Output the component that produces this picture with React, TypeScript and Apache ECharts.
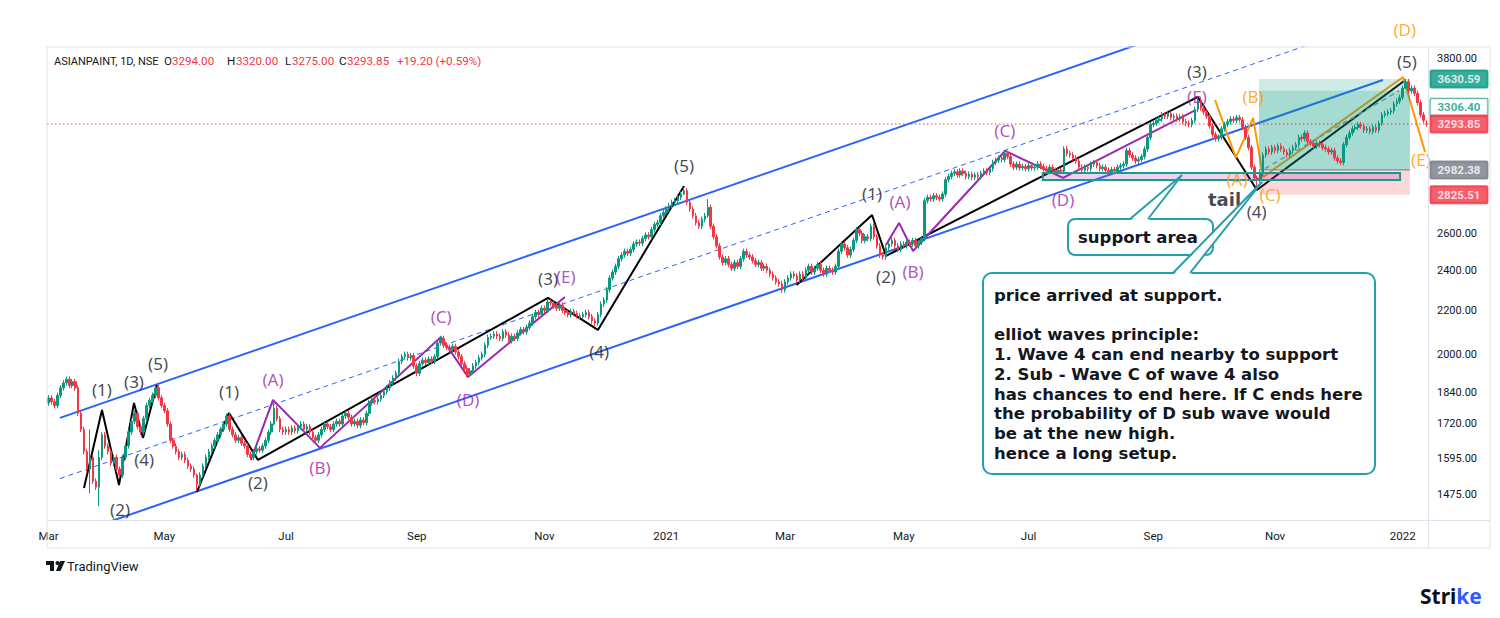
import React, { useEffect, useRef } from "react";
import * as echarts from "echarts";

// ---------- DATA ----------
const startDate = "2020-03-02";
const candleCount = 465;
const holidays = [
  "2020-03-10", "2020-04-02", "2020-04-06", "2020-04-10", "2020-04-14", "2020-05-01", "2020-05-25",
  "2020-10-02", "2020-11-16", "2020-11-30", "2020-12-25", "2021-01-26", "2021-03-11", "2021-03-29",
  "2021-04-02", "2021-04-14", "2021-04-21", "2021-05-13", "2021-07-21", "2021-08-19", "2021-09-10",
  "2021-10-15", "2021-11-05", "2021-11-19", "2022-01-26",
];
const monthNames = ["Jan", "Feb", "Mar", "Apr", "May", "Jun", "Jul", "Aug", "Sep", "Oct", "Nov", "Dec"];

const firstOpen = 1800;
const closes: number[] = [
  1820, 1805, 1790, 1830, 1860, 1880, 1895, 1870, 1885, 1860,
  1760, 1700, 1620, 1560, 1600, 1520, 1500, 1600, 1680, 1640,
  1620, 1580, 1600, 1560, 1540, 1600, 1640, 1690, 1730, 1760,
  1710, 1690, 1740, 1790, 1810, 1830, 1860, 1820, 1790, 1770,
  1720, 1660, 1640, 1620, 1600, 1610, 1590, 1570, 1560, 1540,
  1510, 1540, 1570, 1600, 1620, 1640, 1660, 1680, 1700, 1720,
  1750, 1700, 1680, 1660, 1670, 1650, 1640, 1610, 1600, 1620,
  1630, 1625, 1640, 1660, 1690, 1720, 1780, 1740, 1700, 1690,
  1700, 1690, 1705, 1695, 1710, 1720, 1700, 1710, 1690, 1670,
  1660, 1680, 1700, 1720, 1710, 1700, 1720, 1730, 1720, 1750,
  1760, 1745, 1720, 1730, 1715, 1735, 1725, 1760, 1800, 1810,
  1805, 1815, 1830, 1845, 1860, 1880, 1900, 1920, 1970, 1990,
  2000, 1985, 1995, 1950, 1920, 1960, 1975, 1965, 1980, 1970,
  1990, 2050, 2070, 2040, 2030, 2020, 2035, 2010, 1990, 1960,
  1940, 1915, 1930, 1950, 1965, 1985, 2000, 2040, 2075, 2080,
  2090, 2080, 2070, 2100, 2085, 2060, 2080, 2070, 2095, 2110,
  2100, 2120, 2140, 2170, 2190, 2180, 2210, 2200, 2240, 2235,
  2220, 2210, 2225, 2200, 2190, 2180, 2195, 2185, 2175, 2170,
  2180, 2190, 2170, 2150, 2140, 2180, 2230, 2250, 2300, 2360,
  2390, 2420, 2460, 2480, 2500, 2490, 2510, 2540, 2550, 2545,
  2570, 2590, 2580, 2620, 2650, 2660, 2700, 2720, 2740, 2760,
  2780, 2790, 2810, 2830, 2850, 2780, 2740, 2700, 2660, 2640,
  2680, 2700, 2750, 2640, 2580, 2530, 2470, 2440, 2460, 2430,
  2410, 2440, 2420, 2460, 2500, 2480, 2470, 2450, 2430, 2440,
  2410, 2420, 2400, 2380, 2360, 2340, 2330, 2300, 2340, 2360,
  2380, 2370, 2350, 2380, 2360, 2400, 2420, 2390, 2410, 2430,
  2400, 2380, 2410, 2400, 2390, 2420, 2500, 2540, 2520, 2480,
  2510, 2560, 2620, 2600, 2560, 2580, 2570, 2640, 2580, 2530,
  2480, 2470, 2520, 2540, 2560, 2530, 2510, 2540, 2530, 2550,
  2540, 2560, 2530, 2550, 2570, 2790, 2810, 2800, 2820, 2810,
  2800, 2830, 2920, 2940, 2960, 2970, 2950, 2975, 2960, 2940,
  2955, 2935, 2950, 2940, 2960, 2975, 2965, 2990, 3030, 3045,
  3060, 3050, 3090, 3070, 3020, 3000, 3020, 2995, 3005, 2990,
  3010, 2995, 3000, 3020, 3005, 2990, 2975, 3000, 2980, 2970,
  2980, 2975, 3120, 3090, 3080, 3060, 3040, 3000, 2980, 3000,
  2990, 3020, 3030, 3010, 2990, 3000, 2980, 2970, 2985, 2975,
  3000, 3010, 3020, 3110, 3080, 3060, 3040, 3050, 3070, 3120,
  3200, 3290, 3300, 3320, 3330, 3360, 3350, 3370, 3340, 3350,
  3330, 3345, 3310, 3300, 3290, 3320, 3400, 3470, 3410, 3380,
  3350, 3280, 3220, 3190, 3200, 3260, 3290, 3310, 3330, 3320,
  3340, 3325, 3270, 3200, 3130, 3000, 2930, 2920, 2960, 3080,
  3120, 3100, 3130, 3110, 3140, 3120, 3100, 3080, 3110, 3130,
  3150, 3200, 3190, 3230, 3170, 3160, 3140, 3160, 3150, 3130,
  3120, 3100, 3110, 3060, 3040, 3030, 3150, 3200, 3230, 3260,
  3270, 3290, 3280, 3250, 3260, 3240, 3270, 3250, 3300, 3360,
  3370, 3380, 3390, 3440, 3460, 3490, 3560, 3610, 3540, 3560,
  3520, 3450, 3360, 3320, 3293.85,
];
const wickPct = 0.006;
// [low, high] of candles whose wicks were read individually
const wickExtremes: Record<number, [number, number]> = {
  14: [1480, 1700], 17: [1440, 1625], 50: [1488, 1545], 76: [1715, 1812], 214: [2825, 2872],
  222: [2690, 2800], 247: [2285, 2345], 407: [2868, 2945], 457: [3550, 3632],
};
const lastCandle = { open: 3294.0, high: 3320.0, low: 3275.0, close: 3293.85 };

const yTicks = [1475, 1595, 1720, 1840, 2000, 2200, 2400, 2600, 3800];
const yMin = 1397;
const yMax = 3892;
const lastPrice = 3293.85;

// channel (x = candle index, y = price)
const channelUpper = [[3.87, 1742.7], [387.7, 4100]];
const channelMid = [[3.87, 1528], [455.1, 4190]];
const channelLower = [[3.87, 1341], [449.3, 3623.8]];

// Elliott waves
const wave1Black = [[11.95, 1497.5], [18.01, 1773], [23.74, 1507], [28.79, 1800], [31.82, 1669], [36.53, 1872]];
const wave2Black = [[50.0, 1484.6], [60.77, 1761.6], [70.54, 1591], [168.2, 2260], [185.0, 2108.7], [214.0, 2880]];
const wave3Black = [[251.9, 2324.5], [277.3, 2705], [282.0, 2475.2], [387.0, 3492.8], [406.9, 2855.6], [456.9, 3623.8]];
const wave1Purple = [[68.18, 1591], [75.59, 1812], [91.41, 1633.2], [132.15, 2076.8], [141.25, 1904.6], [173.9, 2264.9]];
const wave2Purple = [[282.0, 2535], [286.4, 2658.7], [291.1, 2502], [322.1, 3107.3], [341.6, 2930.7], [386.4, 3395.9]];
const waveOrange = [[392.8, 3470], [399.8, 3060.5], [405.6, 3337.5], [409.0, 2937], [456.1, 3647.4], [463.5, 3100.5]];

const blackLabels: [string, number, number][] = [
  ["(1)", 18.0, 1852], ["(2)", 24.1, 1428], ["(3)", 28.8, 1884], ["(4)", 32.2, 1591], ["(5)", 36.9, 1959],
  ["(1)", 60.8, 1843.6], ["(2)", 70.5, 1513.8], ["(3)", 168.2, 2354.9], ["(4)", 185.4, 2010.5], ["(5)", 214.0, 3007.8],
  ["(1)", 277.3, 2831], ["(2)", 282.0, 2365], ["(3)", 386.7, 3690], ["(4)", 406.8, 2725], ["(5)", 457.4, 3767.8],
];
const purpleLabels: [string, number, number][] = [
  ["(A)", 75.6, 1892.3], ["(B)", 91.4, 1563.8], ["(C)", 132.2, 2168.9], ["(D)", 141.3, 1812], ["(E)", 174.2, 2365],
  ["(A)", 286.7, 2782.3], ["(B)", 291.1, 2391], ["(C)", 322.0, 3245], ["(D)", 341.6, 2794.4], ["(E)", 386.7, 3495],
];
const orangeLabels: [string, number, number][] = [
  ["(A)", 400.2, 2918], ["(B)", 405.6, 3492.8], ["(C)", 411.3, 2825], ["(D)", 456.7, 4038], ["(E)", 462.1, 3047],
];
const tailLabel: [string, number, number][] = [["tail", 396.0, 2800]];

// long position tool
const posX = [407.6, 458.4];
const targetPrice = 3630.59;
const reachedPrice = 3540;
const entryPrice = 2982.38;
const stopPrice = 2825.51;
const positionDash = [[409.6, 2990], [454.8, 3540]];
const supportZone = [334.8, 455.1, 2918, 2962.5];

const priceTags = [
  { value: 3630.59, bg: "#089981", fg: "#ffffff", border: "#089981", dy: 0 },
  { value: 3306.4, bg: "#ffffff", fg: "#089981", border: "#089981", dy: -15 },
  { value: 3293.85, bg: "#F23645", fg: "#ffffff", border: "#F23645", dy: 0 },
  { value: 2982.38, bg: "#787B86", fg: "#ffffff", border: "#787B86", dy: 0 },
  { value: 2825.51, bg: "#F23645", fg: "#ffffff", border: "#F23645", dy: 0 },
];

const headerParts = [
  { t: "ASIANPAINT, 1D, NSE", x: 54, c: "#131722", s: 11 },
  { t: "O", x: 164, c: "#131722", s: 11.6 }, { t: "3294.00", x: 172, c: "#F23645", s: 11.6 },
  { t: "H", x: 227, c: "#131722", s: 11.6 }, { t: "3320.00", x: 236, c: "#F23645", s: 11.6 },
  { t: "L", x: 285, c: "#131722", s: 11.6 }, { t: "3275.00", x: 292, c: "#F23645", s: 11.6 },
  { t: "C", x: 339, c: "#131722", s: 11.6 }, { t: "3293.85", x: 347, c: "#F23645", s: 11.6 },
  { t: "+19.20 (+0.59%)", x: 397, c: "#F23645", s: 11.6 },
];

const noteLines = [
  "price arrived at support.",
  "",
  "elliot waves principle:",
  "1. Wave 4 can end nearby to support",
  "2. Sub - Wave C of wave 4 also",
  "has chances to end here. If C ends here",
  "the probability of D sub wave would",
  "be at the new high.",
  "hence a long setup.",
];

// ---------- helpers ----------
function buildDates(): string[] {
  const out: string[] = [];
  const d = new Date(startDate + "T00:00:00Z");
  while (out.length < candleCount) {
    const wd = d.getUTCDay();
    const s = d.toISOString().slice(0, 10);
    if (wd !== 0 && wd !== 6 && holidays.indexOf(s) < 0) out.push(s);
    d.setUTCDate(d.getUTCDate() + 1);
  }
  return out;
}

const UP = "#089981";
const DOWN = "#F23645";
const CALLOUT = "#24A0AC";
const FONT = "'Noto Sans', sans-serif";
const NOTE_FONT = "'DejaVu Sans', Verdana, sans-serif";

export default function App() {
  const ref = useRef<HTMLDivElement>(null);
  useEffect(() => {
    if (!ref.current) return;
    const chart = echarts.init(ref.current, undefined, { renderer: "svg" });
    const dates = buildDates();
    const ohlc = closes.map((c, i) => {
      const o = i === 0 ? firstOpen : closes[i - 1];
      let hi = Math.max(o, c) * (1 + wickPct);
      let lo = Math.min(o, c) * (1 - wickPct);
      if (wickExtremes[i]) {
        lo = wickExtremes[i][0];
        hi = wickExtremes[i][1];
      }
      return [o, c, lo, hi];
    });
    ohlc[ohlc.length - 1] = [lastCandle.open, lastCandle.close, lastCandle.low, lastCandle.high];
    const xMaxV = candleCount - 0.5;

    const lineS = (data: number[][], color: string, width: number, z: number, type: any = "solid") => ({
      type: "line", xAxisIndex: 1, yAxisIndex: 0, data, symbol: "none", silent: true, z,
      lineStyle: { color, width, type }, clip: true,
    });
    const labelS = (items: [string, number, number][], color: string, size = 17, weight = "normal", family = FONT) => ({
      type: "scatter", xAxisIndex: 1, yAxisIndex: 0, symbolSize: 1, clip: false, silent: true, z: 9,
      itemStyle: { color: "rgba(0,0,0,0)" },
      data: items.map(([t, x, y]) => ({ value: [x, y], label: { formatter: t } })),
      label: { show: true, position: "inside", color, fontSize: size, fontWeight: weight, fontFamily: family },
    });

    const rectData = [
      [posX[0], posX[1], entryPrice, targetPrice],
      [posX[0], posX[1], entryPrice, reachedPrice],
      [posX[0], posX[1], stopPrice, entryPrice],
    ];
    const rectFills = ["rgba(8,153,129,0.2)", "rgba(8,153,129,0.2)", "rgba(242,54,69,0.2)"];

    const graphics: any[] = [
      // frame
      { type: "rect", shape: { x: 47, y: 47, width: 1443, height: 501 }, style: { fill: "none", stroke: "#e0e3eb", lineWidth: 1 }, z: 50, silent: true },
      { type: "line", shape: { x1: 47, y1: 520.5, x2: 1490, y2: 520.5 }, style: { stroke: "#e0e3eb", lineWidth: 1 }, z: 50 },
      { type: "line", shape: { x1: 1428.5, y1: 47, x2: 1428.5, y2: 548 }, style: { stroke: "#e0e3eb", lineWidth: 1 }, z: 50 },
      // header
      ...headerParts.map((p) => ({
        type: "text", x: p.x, y: 61, z: 60,
        style: { text: p.t, fill: p.c, font: `${p.s}px Roboto, sans-serif`, verticalAlign: "middle" },
      })),
      // support area callout
      { type: "rect", shape: { x: 1068, y: 219, width: 145, height: 36, r: 7 }, style: { fill: "#ffffff", stroke: CALLOUT, lineWidth: 2 }, z: 70 },
      { type: "polygon", shape: { points: [[1130, 221], [1182, 175], [1148, 221]] }, style: { fill: "#ffffff" }, z: 71 },
      { type: "polyline", shape: { points: [[1130, 219], [1182, 175], [1148, 219]] }, style: { stroke: CALLOUT, lineWidth: 2, fill: null }, z: 72 },
      { type: "text", x: 1138, y: 237, z: 73, style: { text: "support area", fill: "#131722", font: `bold 16.5px ${NOTE_FONT}`, align: "center", verticalAlign: "middle" } },
      // note callout
      { type: "rect", shape: { x: 983, y: 273, width: 392, height: 201, r: 9 }, style: { fill: "#ffffff", stroke: CALLOUT, lineWidth: 2 }, z: 70 },
      { type: "polygon", shape: { points: [[1173, 275], [1262, 182], [1190, 275]] }, style: { fill: "#ffffff" }, z: 71 },
      { type: "polyline", shape: { points: [[1173, 273], [1262, 182], [1190, 273]] }, style: { stroke: CALLOUT, lineWidth: 2, fill: null }, z: 72 },
      ...noteLines.map((t, k) => ({
        type: "text", x: 994, y: 295 + k * 19.8, z: 73,
        style: { text: t, fill: "#131722", font: `bold 16.5px ${NOTE_FONT}`, verticalAlign: "middle" },
      })),
      // TradingView logo
      { type: "rect", shape: { x: 46, y: 561, width: 8, height: 4 }, style: { fill: "#131722" }, z: 60 },
      { type: "rect", shape: { x: 50, y: 561, width: 4, height: 10 }, style: { fill: "#131722" }, z: 60 },
      { type: "circle", shape: { cx: 57.5, cy: 563, r: 2 }, style: { fill: "#131722" }, z: 60 },
      { type: "polygon", shape: { points: [[60, 561], [65, 561], [60.5, 571], [56, 571]] }, style: { fill: "#131722" }, z: 60 },
      { type: "text", x: 67, y: 566.5, z: 60, style: { text: "TradingView", fill: "#131722", font: "13px Roboto, sans-serif", verticalAlign: "middle" } },
      // Strike logo
      {
        type: "text", x: 1420, y: 596, z: 60,
        style: {
          text: "{a|Stri}{b|ke}", verticalAlign: "middle",
          rich: {
            a: { fill: "#0b0f1e", font: `bold 21px ${FONT}` },
            b: { fill: "#2f5bff", font: `bold 21px ${FONT}` },
          },
        },
      },
    ];

    chart.setOption({
      animation: false,
      backgroundColor: "#ffffff",
      grid: { left: 47, right: 72, top: 47, bottom: 98, containLabel: false },
      xAxis: [
        {
          type: "category", data: dates, boundaryGap: true, gridIndex: 0,
          axisLine: { show: false }, axisTick: { show: false }, splitLine: { show: false },
          axisLabel: {
            color: "#131722", fontSize: 11.5, fontFamily: "Roboto, sans-serif", margin: 10,
            interval: (idx: number, val: string) => {
              if (idx === 0) return true;
              const m = val.slice(5, 7);
              return m !== dates[idx - 1].slice(5, 7) && ["01", "03", "05", "07", "09", "11"].indexOf(m) >= 0;
            },
            formatter: (val: string) => {
              const m = +val.slice(5, 7);
              return m === 1 ? val.slice(0, 4) : monthNames[m - 1];
            },
          },
        },
        { type: "value", gridIndex: 0, min: -0.5, max: xMaxV, show: false },
      ],
      yAxis: [
        {
          type: "log", logBase: 10, min: yMin, max: yMax, position: "right",
          axisLine: { show: false }, axisTick: { show: false }, splitLine: { show: false },
          axisLabel: {
            customValues: yTicks, color: "#131722", fontSize: 11, fontFamily: "Roboto, sans-serif", margin: 9,
            formatter: (v: number) => Number(v).toFixed(2),
          },
        },
      ],
      series: [
        {
          type: "candlestick", name: "ASIANPAINT", xAxisIndex: 0, yAxisIndex: 0, data: ohlc, z: 4, barWidth: 2.1,
          itemStyle: { color: UP, color0: DOWN, borderColor: UP, borderColor0: DOWN, borderWidth: 1 },
        },
        lineS([[-0.5, lastPrice], [xMaxV, lastPrice]], DOWN, 1, 3, [1.5, 2.5]),
        lineS(channelUpper, "#2962FF", 2, 2),
        lineS(channelMid, "#2962FF", 1, 2, [5, 4]),
        lineS(channelLower, "#2962FF", 2, 2),
        lineS(wave1Black, "#000000", 2, 2),
        lineS(wave2Black, "#000000", 2, 2),
        lineS(wave3Black, "#000000", 2, 2),
        lineS(wave1Purple, "#9C27B0", 2, 2),
        lineS(wave2Purple, "#9C27B0", 2, 2),
        lineS(waveOrange, "#FF9800", 2, 2),
        lineS(positionDash, "#9598a1", 1.5, 2, [5, 4]),
        {
          type: "custom", xAxisIndex: 1, yAxisIndex: 0, z: 3, silent: true, clip: true,
          data: rectData, encode: { x: [0, 1], y: [2, 3] },
          renderItem: (params: any, api: any) => {
            const p1 = api.coord([api.value(0), api.value(3)]);
            const p2 = api.coord([api.value(1), api.value(2)]);
            return {
              type: "rect",
              shape: { x: p1[0], y: p1[1], width: p2[0] - p1[0], height: p2[1] - p1[1] },
              style: { fill: rectFills[params.dataIndex] },
            };
          },
        },
        lineS([[posX[0], entryPrice], [posX[1], entryPrice]], "#787B86", 1, 3),
        {
          type: "custom", xAxisIndex: 1, yAxisIndex: 0, z: 5, silent: true, clip: true,
          data: [supportZone], encode: { x: [0, 1], y: [2, 3] },
          renderItem: (params: any, api: any) => {
            const p1 = api.coord([api.value(0), api.value(3)]);
            const p2 = api.coord([api.value(1), api.value(2)]);
            return {
              type: "rect",
              shape: { x: p1[0], y: p1[1], width: p2[0] - p1[0], height: p2[1] - p1[1] },
              style: { fill: "rgba(156,39,176,0.2)", stroke: "#1b9a8a", lineWidth: 2 },
            };
          },
        },
        labelS(blackLabels, "#131722"),
        labelS(purpleLabels, "#9C27B0"),
        labelS(tailLabel, "#131722", 18, "bold", NOTE_FONT),
        labelS(orangeLabels, "#FF9800"),
        {
          type: "scatter", xAxisIndex: 1, yAxisIndex: 0, symbolSize: 1, clip: false, silent: true, z: 12,
          itemStyle: { color: "rgba(0,0,0,0)" },
          data: priceTags.map((t) => ({
            value: [xMaxV, t.value],
            label: {
              formatter: t.value.toFixed(2), backgroundColor: t.bg, color: t.fg,
              borderColor: t.border, borderWidth: 1, offset: [0, t.dy],
            },
          })),
          label: {
            show: true, position: "right", distance: 2, padding: [3, 7, 2, 7],
            fontSize: 11.5, fontFamily: "Roboto, sans-serif", fontWeight: "bold", borderRadius: 1,
          },
        },
      ],
      graphic: { elements: graphics },
    });
    return () => chart.dispose();
  }, []);
  return <div ref={ref} style={{ position: "fixed", left: 0, top: 0, width: 1500, height: 618, background: "#fff" }} />;
}
